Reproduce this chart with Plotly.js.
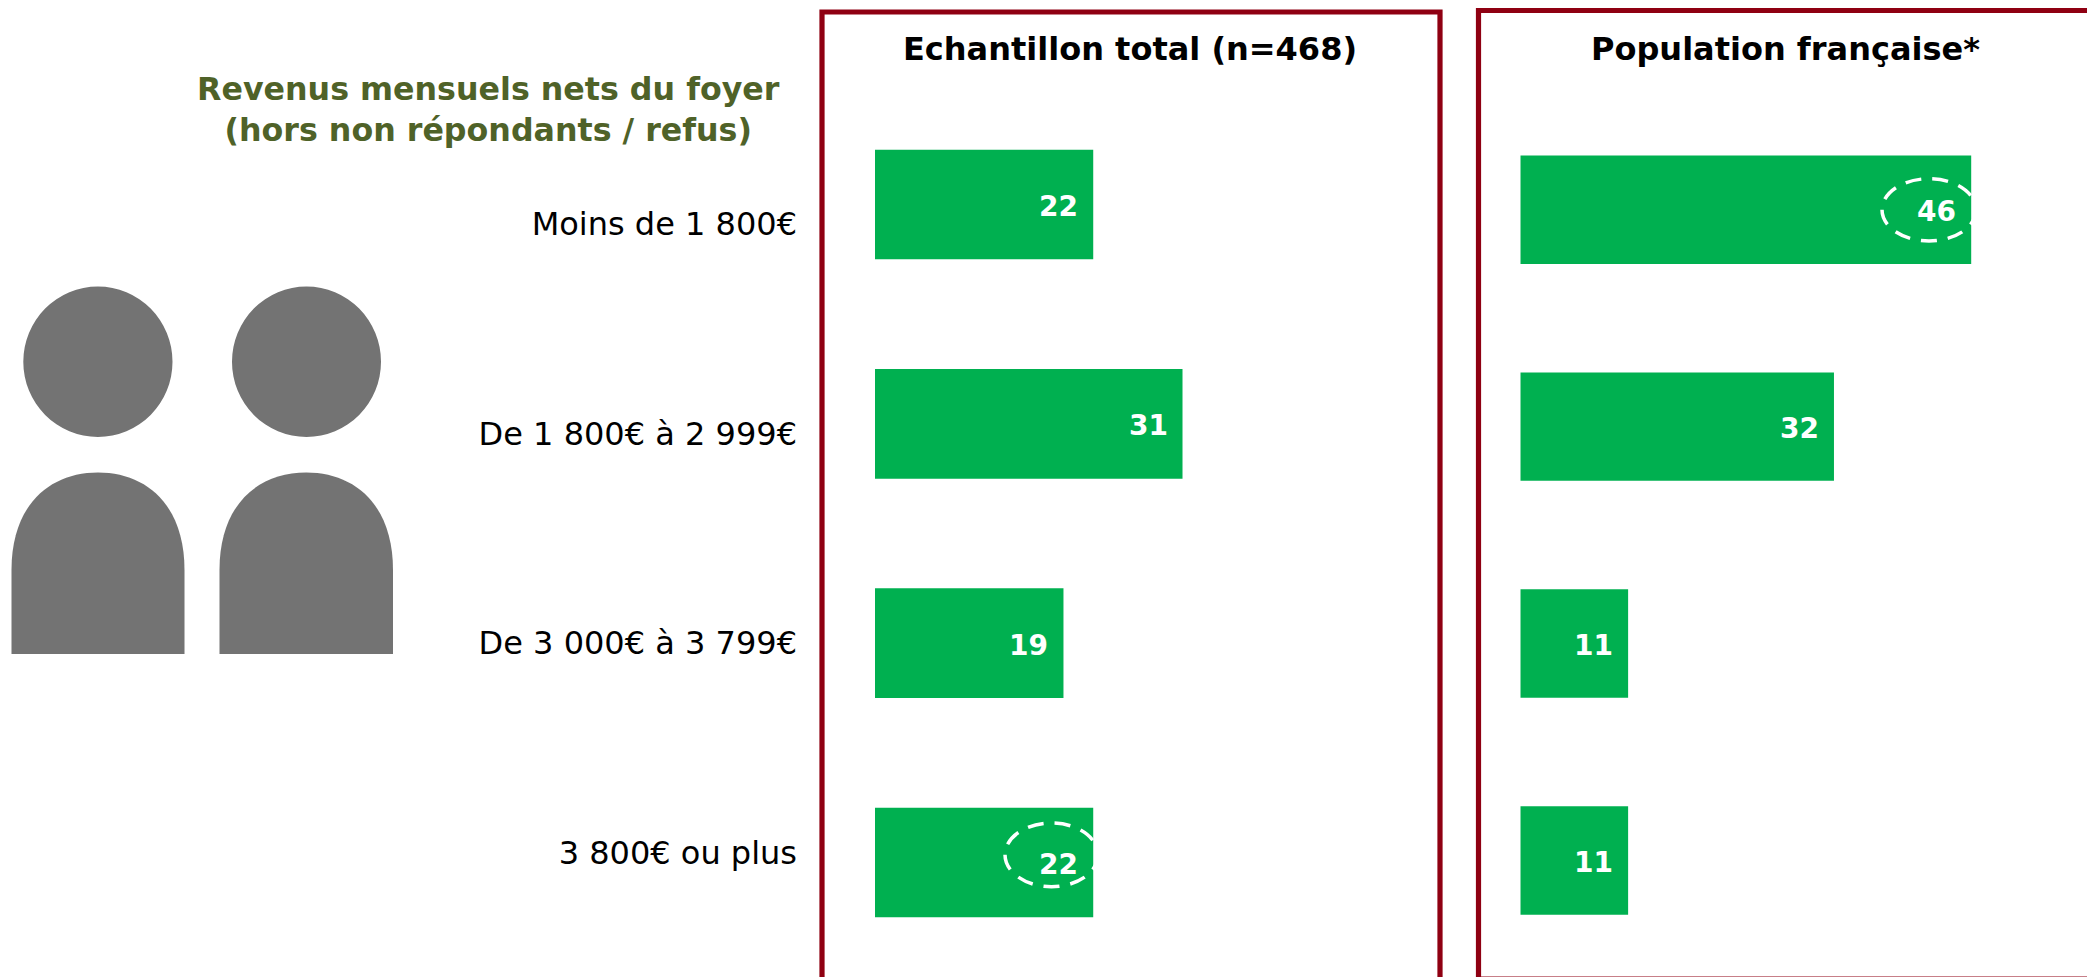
<!DOCTYPE html>
<html><head><meta charset="utf-8">
<script src="https://cdn.plot.ly/plotly-3.0.1.min.js"></script>
<style>html,body{margin:0;padding:0;background:#fff;overflow:hidden}</style>
</head><body><div id="chart" style="width:2087px;height:977px"></div>
<script>
const categories = ["Moins de 1 800€","De 1 800€ à 2 999€","De 3 000€ à 3 799€","3 800€ ou plus"];
const echantillon = [22,31,19,22];
const population = [46,32,11,11];
const titleLeft = "Echantillon total (n=468)";
const titleRight = "Population française*";
const heading = "Revenus mensuels nets du foyer<br>(hors non répondants / refus)";

const W=2087,H=977, GREEN="#00B050", RED="#8F0012", GREY="#737373";
const FONT='"DejaVu Sans", Verdana, sans-serif';
const px=x=>x/W, py=y=>1-y/H;
const dom=(a,b)=>[px(a),px(b)], vdom=(t,b)=>[py(b),py(t)];

const bar=(vals,xa,ya)=>({type:"bar",orientation:"h",x:vals,y:categories,xaxis:xa,yaxis:ya,
  marker:{color:GREEN,line:{width:0}},hoverinfo:"x+y",showlegend:false});
const data=[bar(echantillon,"x","y"),bar(population,"x2","y2"),
  {type:"scatter",mode:"none",x:categories.map(()=>0),y:categories,xaxis:"x3",yaxis:"y3",showlegend:false,hoverinfo:"skip"}];

const hiddenX=(d,r,a)=>({domain:d,range:r,anchor:a,visible:false,fixedrange:true});
const hiddenY=(d,a)=>({domain:d,anchor:a,type:"category",categoryorder:"array",categoryarray:categories,autorange:"reversed",visible:false,fixedrange:true});

const valueLabels=(vals,xa,ya)=>vals.map((v,i)=>({x:v,y:categories[i],xref:xa,yref:ya,text:String(v),showarrow:false,
  xanchor:"right",xshift:-13,yshift:-2,font:{family:FONT,size:28,color:"#fff",weight:700}}));

const person=(x0,x1,cx0,cx1)=>[
  {type:"circle",xref:"paper",yref:"paper",x0:px(cx0),x1:px(cx1),y0:py(437),y1:py(286.5),fillcolor:GREY,line:{width:0},layer:"below"},
  {type:"path",xref:"paper",yref:"paper",fillcolor:GREY,line:{width:0},layer:"below",
   path:`M ${px(x0)} ${py(654)} L ${px(x0)} ${py(570)} C ${px(x0)} ${py(505)} ${px(x0+38)} ${py(472.5)} ${px((x0+x1)/2)} ${py(472.5)} C ${px(x1-38)} ${py(472.5)} ${px(x1)} ${py(505)} ${px(x1)} ${py(570)} L ${px(x1)} ${py(654)} Z`}
];
const frame=(l,t,r,b)=>({type:"rect",xref:"paper",yref:"paper",x0:px(l),x1:px(r),y0:py(b),y1:py(t),line:{color:RED,width:5.2},fillcolor:"rgba(0,0,0,0)",layer:"below"});
const ring=(l,t,r,b)=>({type:"circle",xref:"paper",yref:"paper",x0:px(l),x1:px(r),y0:py(b),y1:py(t),line:{color:"#fff",width:3.5,dash:"16px,11px"},fillcolor:"rgba(0,0,0,0)",layer:"above"});

const layout={
  width:W,height:H,margin:{l:0,r:0,t:0,b:0,pad:0},paper_bgcolor:"#fff",plot_bgcolor:"rgba(0,0,0,0)",
  bargap:0.5,showlegend:false,font:{family:FONT},
  xaxis:hiddenX(dom(875,1430),[0,55.95],"y"),
  yaxis:hiddenY(vdom(94.8,972.2),"x"),
  xaxis2:hiddenX(dom(1520.3,2080),[0,57.1],"y2"),
  yaxis2:hiddenY(vdom(101.2,969),"x2"),
  xaxis3:{domain:dom(798,810),range:[-1,1],anchor:"y3",visible:false,fixedrange:true},
  yaxis3:{domain:vdom(118.7,957.9),anchor:"x3",type:"category",categoryorder:"array",categoryarray:categories,range:[3.5,-0.5],
    showgrid:false,zeroline:false,showline:false,ticks:"",fixedrange:true,tickfont:{family:FONT,size:32,color:"#000"}},
  shapes:[frame(822,12,1440,1000),frame(1478.5,10.5,2120,979),
    ...person(11.5,184.5,23.3,172.5),...person(219.5,393,232,381),
    ring(1005,823,1098,886.7),ring(1882,178.7,1976,241)],
  annotations:[
    {xref:"paper",yref:"paper",x:px(488),y:py(110),text:heading,showarrow:false,align:"center",xanchor:"center",yanchor:"middle",
      font:{family:FONT,size:31.7,color:"#4F6228",weight:700}},
    {xref:"paper",yref:"paper",x:px(1129.5),y:py(49),text:titleLeft,showarrow:false,xanchor:"center",yanchor:"middle",font:{family:FONT,size:32,color:"#000",weight:700}},
    {xref:"paper",yref:"paper",x:px(1785),y:py(49),text:titleRight,showarrow:false,xanchor:"center",yanchor:"middle",font:{family:FONT,size:32,color:"#000",weight:700}},
    ...valueLabels(echantillon,"x","y"),...valueLabels(population,"x2","y2")
  ]
};
Plotly.newPlot("chart",data,layout,{displayModeBar:false,responsive:false});
</script></body></html>
